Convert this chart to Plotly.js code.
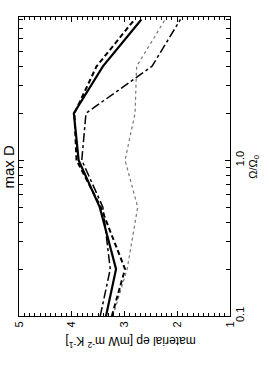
<!DOCTYPE html>
<html>
<head>
<meta charset="utf-8">
<script src="https://cdn.plot.ly/plotly-3.0.1.min.js"></script>
<style>
html,body{margin:0;padding:0;background:#fff;}
#chart{width:269px;height:378px;}
</style>
</head>
<body>
<div id="chart"></div>
<script>
// Omega / Omega_0 values (log axis, drawn vertically)
var omega = [0.1, 0.2, 0.5, 1, 2, 4, 8];
// material ep [mW m^-2 K^-1] for each curve
var solidVals   = [3.35, 3.16, 3.47, 3.87, 3.96, 3.41, 2.68];
var dashedVals  = [3.24, 2.99, 3.45, 3.91, 3.95, 3.53, 2.81];
var dashdotVals = [3.46, 3.27, 3.41, 3.81, 3.73, 2.48, 1.94];
var dottedVals  = [3.22, 2.95, 2.75, 2.99, 2.80, 2.77, 2.23];

var valueTicks = [1, 2, 3, 4, 5];
var valueTickText = ['1', '2', '3', '4', '5'];
var omegaTicks = [0.1, 1];
var omegaTickText = ['0.1', '1.0'];
var omegaMinor = [0.2, 0.3, 0.4, 0.5, 0.6, 0.7, 0.8, 0.9, 2, 3, 4, 5, 6, 7, 8];

var titleText = 'max D';
var valueTitle = 'material ep [mW m<sup>-2</sup> K<sup>-1</sup>]';
var omegaTitle = '\u03A9/\u03A9<sub>0</sub>';

var font = 'Liberation Sans, Arial, Helvetica, sans-serif';

var traces = [
  {x: dottedVals, y: omega, mode: 'lines', line: {color: '#777777', width: 1.2, dash: 'dot'}},
  {x: dashdotVals, y: omega, mode: 'lines', line: {color: '#000000', width: 1.5, dash: 'dashdot'}},
  {x: dashedVals, y: omega, mode: 'lines', line: {color: '#000000', width: 2, dash: '5px,3px'}},
  {x: solidVals, y: omega, mode: 'lines', line: {color: '#000000', width: 2.2}}
];

var layout = {
  width: 269, height: 378,
  margin: {l: 19, r: 39, t: 17, b: 62, pad: 0},
  paper_bgcolor: '#ffffff', plot_bgcolor: '#ffffff',
  showlegend: false,
  font: {family: font, size: 11, color: '#000'},
  xaxis: {
    range: [5, 1], tickmode: 'array', tickvals: valueTicks, ticktext: valueTickText,
    tickangle: -90, ticks: 'inside', ticklen: 5, tickwidth: 1, tickcolor: '#000',
    showline: true, linecolor: '#000', linewidth: 1, mirror: 'ticks',
    showgrid: false, zeroline: false,
    tickfont: {family: font, size: 11, color: '#000'},
    minor: {dtick: 0.1, tick0: 0, ticks: 'inside', ticklen: 3, tickwidth: 1, tickcolor: '#000', showgrid: false}
  },
  yaxis: {
    type: 'log', range: [-1, 0.919], side: 'right',
    tickmode: 'array', tickvals: omegaTicks, ticktext: omegaTickText,
    tickangle: -90, ticks: 'inside', ticklen: 5, tickwidth: 1, tickcolor: '#000',
    showline: true, linecolor: '#000', linewidth: 1, mirror: 'ticks',
    showgrid: false, zeroline: false,
    tickfont: {family: font, size: 11, color: '#000'},
    minor: {tickmode: 'array', tickvals: omegaMinor, ticks: 'inside', ticklen: 4, tickwidth: 1, tickcolor: '#000', showgrid: false}
  },
  annotations: [
    {text: titleText, xref: 'paper', yref: 'paper', x: -0.052, y: 0.5, textangle: -90,
     showarrow: false, xanchor: 'center', yanchor: 'middle', font: {family: font, size: 15, color: '#000'}},
    {text: valueTitle, xref: 'paper', yref: 'paper', x: 0.53, y: -0.085, textangle: 180,
     showarrow: false, xanchor: 'center', yanchor: 'middle', font: {family: font, size: 12, color: '#000'}},
    {text: omegaTitle, xref: 'paper', yref: 'paper', x: 1.11, y: 0.5, textangle: -90,
     showarrow: false, xanchor: 'center', yanchor: 'middle', font: {family: font, size: 11, color: '#000'}}
  ]
};

Plotly.newPlot('chart', traces, layout, {displayModeBar: false, staticPlot: true});
</script>
</body>
</html>
